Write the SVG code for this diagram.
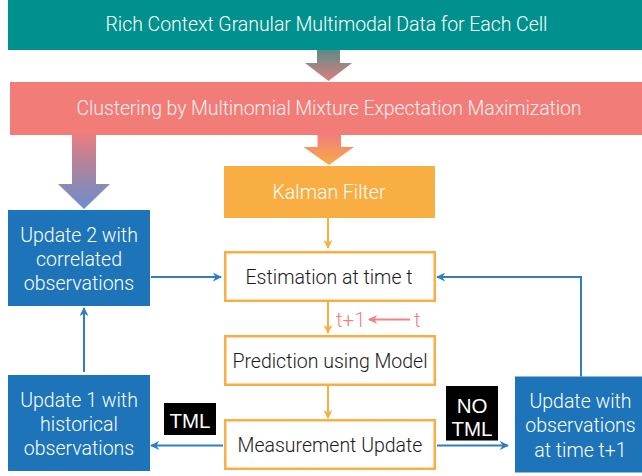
<svg xmlns="http://www.w3.org/2000/svg" width="642" height="476" viewBox="0 0 642 476">
  <style>
    .t { font-family: "Roboto", "Liberation Sans", sans-serif; font-weight: 300; font-size: 19.5px; text-anchor: middle; }
    .w { fill: #ffffff; }
    .k { fill: #1a1a1a; }
    .lab { font-family: "Liberation Sans", "Arial", sans-serif; font-size: 20.5px; fill: #ffffff; text-anchor: middle; }
    .sal { font-family: "Roboto", "Liberation Sans", sans-serif; font-weight: 300; font-size: 20.5px; fill: #F0837E; }
    .obox { fill: #ffffff; stroke: #F9AE43; stroke-width: 2.5; }
    .bbox { fill: #1D74B9; }
    .ol { stroke: #F9AE43; stroke-width: 2; fill: none; }
    .bl { stroke: #2F7EC2; stroke-width: 2; fill: none; }
    .sl { stroke: #F0837E; stroke-width: 2; fill: none; }
  </style>
  <defs>
    <linearGradient id="g1" x1="0" y1="50" x2="0" y2="81" gradientUnits="userSpaceOnUse">
      <stop offset="0" stop-color="#5A8C89"/>
      <stop offset="1" stop-color="#E07E7C"/>
    </linearGradient>
    <linearGradient id="g2" x1="0" y1="135" x2="0" y2="165" gradientUnits="userSpaceOnUse">
      <stop offset="0" stop-color="#F07F79"/>
      <stop offset="1" stop-color="#F9AA48"/>
    </linearGradient>
    <linearGradient id="g3" x1="0" y1="134" x2="0" y2="209" gradientUnits="userSpaceOnUse">
      <stop offset="0" stop-color="#EA7D7E"/>
      <stop offset="0.5" stop-color="#A685A3"/>
      <stop offset="1" stop-color="#6A8ECC"/>
    </linearGradient>
    <marker id="ao" viewBox="0 0 10 10" refX="9" refY="5" markerWidth="9" markerHeight="9" markerUnits="userSpaceOnUse" orient="auto">
      <path d="M0,0 L10,5 L0,10 L3,5 Z" fill="#F9AE43"/>
    </marker>
    <marker id="ab" viewBox="0 0 10 10" refX="9" refY="5" markerWidth="9" markerHeight="9" markerUnits="userSpaceOnUse" orient="auto">
      <path d="M0,0 L10,5 L0,10 L3,5 Z" fill="#2F7EC2"/>
    </marker>
    <marker id="as" viewBox="0 0 10 10" refX="9" refY="5" markerWidth="9" markerHeight="9" markerUnits="userSpaceOnUse" orient="auto">
      <path d="M0,0 L10,5 L0,10 L3,5 Z" fill="#F0837E"/>
    </marker>
  </defs>

  <g id="data">
    <rect x="8" y="0" width="634" height="50" fill="#00908D"/>
    <text class="t w" x="326.5" y="30.5" textLength="442">Rich Context Granular Multimodal Data for Each Cell</text>
  </g>

  <g id="clustering">
    <rect x="10" y="82" width="632" height="53" fill="#F17C78"/>
    <text class="t" x="329" y="115" fill="#FDF0EF" textLength="505">Clustering by Multinomial Mixture Expectation Maximization</text>
  </g>

  <g id="kalman">
    <rect x="224" y="166" width="211" height="52" fill="#F9AE43"/>
    <text class="t w" x="329" y="199">Kalman Filter</text>
  </g>

  <g id="estimation">
    <rect class="obox" x="225.25" y="252.25" width="209.5" height="48.5"/>
    <text class="t k" x="329" y="284">Estimation at time t</text>
  </g>

  <g id="prediction">
    <rect class="obox" x="225.25" y="336.25" width="209.5" height="48.5"/>
    <text class="t k" x="330" y="368">Prediction using Model</text>
  </g>

  <g id="measurement">
    <rect class="obox" x="225.25" y="420.25" width="209.5" height="48.5"/>
    <text class="t k" x="330" y="452">Measurement Update</text>
  </g>

  <g id="update2">
    <rect class="bbox" x="8" y="210" width="142" height="96"/>
    <text class="t w" x="79" y="241.5">Update 2 with</text>
    <text class="t w" x="79" y="265.5">correlated</text>
    <text class="t w" x="79" y="290">observations</text>
  </g>

  <g id="update1">
    <rect class="bbox" x="8" y="375" width="142" height="96"/>
    <text class="t w" x="79" y="406.5">Update 1 with</text>
    <text class="t w" x="79" y="430.5">historical</text>
    <text class="t w" x="79" y="455">observations</text>
  </g>

  <g id="update-t1">
    <rect class="bbox" x="515" y="376.5" width="127" height="96"/>
    <text class="t w" x="580.5" y="408">Update with</text>
    <text class="t w" x="580.5" y="432">observations</text>
    <text class="t w" x="580.5" y="457">at time t+1</text>
  </g>

  <g id="tml">
    <rect x="164" y="403" width="52" height="32" fill="#000000"/>
    <text class="lab" x="190" y="428">TML</text>
  </g>

  <g id="no-tml">
    <rect x="446" y="386" width="52" height="54.5" fill="#000000"/>
    <text class="lab" x="472" y="413">NO</text>
    <text class="lab" x="472" y="436">TML</text>
  </g>

  <g id="connectors">
    <polygon points="317,50 340,50 340,63 352,63 328.5,81 305,63 317,63" fill="url(#g1)"/>
    <polygon points="317.5,135 341,135 341,147 354,147 329,165 303.5,147 317.5,147" fill="url(#g2)"/>
    <polygon points="72,134 96,134 96,184 110,184 84,209 58,184 72,184" fill="url(#g3)"/>

    <line class="ol" x1="328" y1="218" x2="328" y2="248" marker-end="url(#ao)"/>
    <line class="ol" x1="328" y1="302" x2="328" y2="333" marker-end="url(#ao)"/>
    <line class="ol" x1="328" y1="386" x2="328" y2="418" marker-end="url(#ao)"/>

    <line class="bl" x1="151" y1="277" x2="221" y2="277" marker-end="url(#ab)"/>
    <line class="bl" x1="84" y1="372" x2="84" y2="308" marker-end="url(#ab)"/>
    <line class="bl" x1="223" y1="445.5" x2="151" y2="445.5" marker-end="url(#ab)"/>
    <line class="bl" x1="437" y1="445.5" x2="508" y2="445.5" marker-end="url(#ab)"/>
    <polyline class="bl" points="581,376.5 581,277 437,277" marker-end="url(#ab)"/>

    <line class="sl" x1="410" y1="319.5" x2="369" y2="319.5" marker-end="url(#as)"/>
    <text class="sal" x="336" y="327">t+1</text>
    <text class="sal" x="414" y="327">t</text>
  </g>
</svg>
